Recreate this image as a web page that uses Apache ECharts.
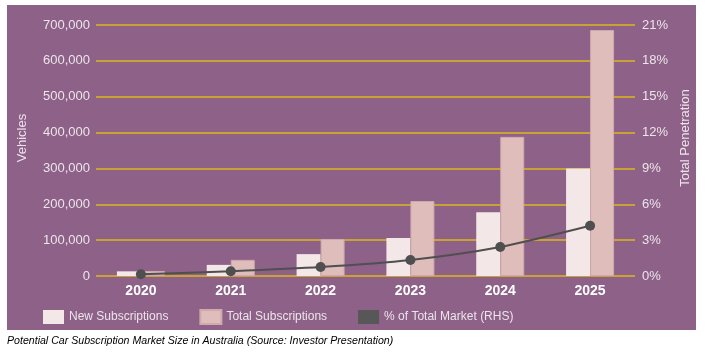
<!DOCTYPE html>
<html>
<head>
<meta charset="utf-8">
<script src="https://cdn.jsdelivr.net/npm/echarts@6/dist/echarts.min.js"></script>
<style>
html,body{margin:0;padding:0;background:#fff;}
#chart{width:707px;height:352px;}
</style>
</head>
<body>
<div id="chart"></div>
<script>
const categories = ['2020', '2021', '2022', '2023', '2024', '2025'];
const newSubscriptions = [13000, 31000, 61000, 106000, 178000, 300000];
const totalSubscriptions = [14000, 45000, 103000, 209000, 388000, 686000];
const pctTotalMarket = [0.14, 0.4, 0.75, 1.34, 2.43, 4.2];
const seriesNames = ['New Subscriptions', 'Total Subscriptions', '% of Total Market (RHS)'];
const leftAxisName = 'Vehicles';
const rightAxisName = 'Total Penetration';
const caption = 'Potential Car Subscription Market Size in Australia (Source: Investor Presentation)';

const purple = '#8e6189';
const gold = '#c9a233';
const labelColor = '#ece4ea';
const font = 'Liberation Sans, Arial, Helvetica, sans-serif';

const chart = echarts.init(document.getElementById('chart'), null, {renderer: 'canvas'});
chart.setOption({
  animation: false,
  backgroundColor: '#ffffff',
  textStyle: {fontFamily: font},
  graphic: [
    {type: 'rect', z: -10, silent: true, shape: {x: 7, y: 5, width: 689, height: 325}, style: {fill: purple}},
    {type: 'text', z: 10, rotation: Math.PI / 2, x: 22, y: 138, style: {text: leftAxisName, fill: labelColor, font: '13px ' + font, textAlign: 'center', textVerticalAlign: 'middle'}},
    {type: 'text', z: 10, rotation: Math.PI / 2, x: 685, y: 138, style: {text: rightAxisName, fill: labelColor, font: '13px ' + font, textAlign: 'center', textVerticalAlign: 'middle'}},
    {type: 'text', z: 10, x: 7, y: 341, style: {text: caption, fill: '#000', font: 'italic 10.6px ' + font, textVerticalAlign: 'middle'}}
  ],
  grid: {left: 96, right: 72, top: 25, bottom: 76, containLabel: false},
  legend: {
    left: 38, top: 304,
    itemWidth: 21, itemHeight: 14, itemGap: 31,
    textStyle: {color: labelColor, fontSize: 12, fontFamily: font},
    data: [
      {name: seriesNames[0], icon: 'rect'},
      {name: seriesNames[1], icon: 'rect'},
      {name: seriesNames[2], icon: 'rect', itemStyle: {color: '#575757'}}
    ]
  },
  xAxis: {
    type: 'category',
    data: categories,
    axisLine: {show: false},
    axisTick: {show: false},
    axisLabel: {color: '#ffffff', fontSize: 14, fontWeight: 'bold', margin: 8, fontFamily: font}
  },
  yAxis: [
    {
      type: 'value', min: 0, max: 700000, interval: 100000,
      axisLine: {show: false}, axisTick: {show: false},
      splitLine: {lineStyle: {color: gold, width: 2}},
      axisLabel: {color: labelColor, fontSize: 13, margin: 6, fontFamily: font,
        formatter: v => v.toLocaleString('en-US')}
    },
    {
      type: 'value', min: 0, max: 21, interval: 3,
      axisLine: {show: false}, axisTick: {show: false},
      splitLine: {show: false},
      axisLabel: {color: labelColor, fontSize: 13, margin: 7, fontFamily: font, formatter: v => v + '%'}
    }
  ],
  series: [
    {
      name: seriesNames[0], type: 'bar', data: newSubscriptions, barWidth: 24, barGap: '0%',
      itemStyle: {color: '#f3e8e7'}
    },
    {
      name: seriesNames[1], type: 'bar', data: totalSubscriptions, barWidth: 24, barGap: '0%',
      itemStyle: {color: '#dfbdba', borderColor: '#cfa9ab', borderWidth: 1}
    },
    {
      name: seriesNames[2], type: 'line', yAxisIndex: 1, data: pctTotalMarket, smooth: 0.25,
      symbol: 'circle', symbolSize: 10,
      lineStyle: {color: '#4f4f4f', width: 2},
      itemStyle: {color: '#4f4f4f'},
      z: 5
    }
  ]
});
</script>
</body>
</html>
